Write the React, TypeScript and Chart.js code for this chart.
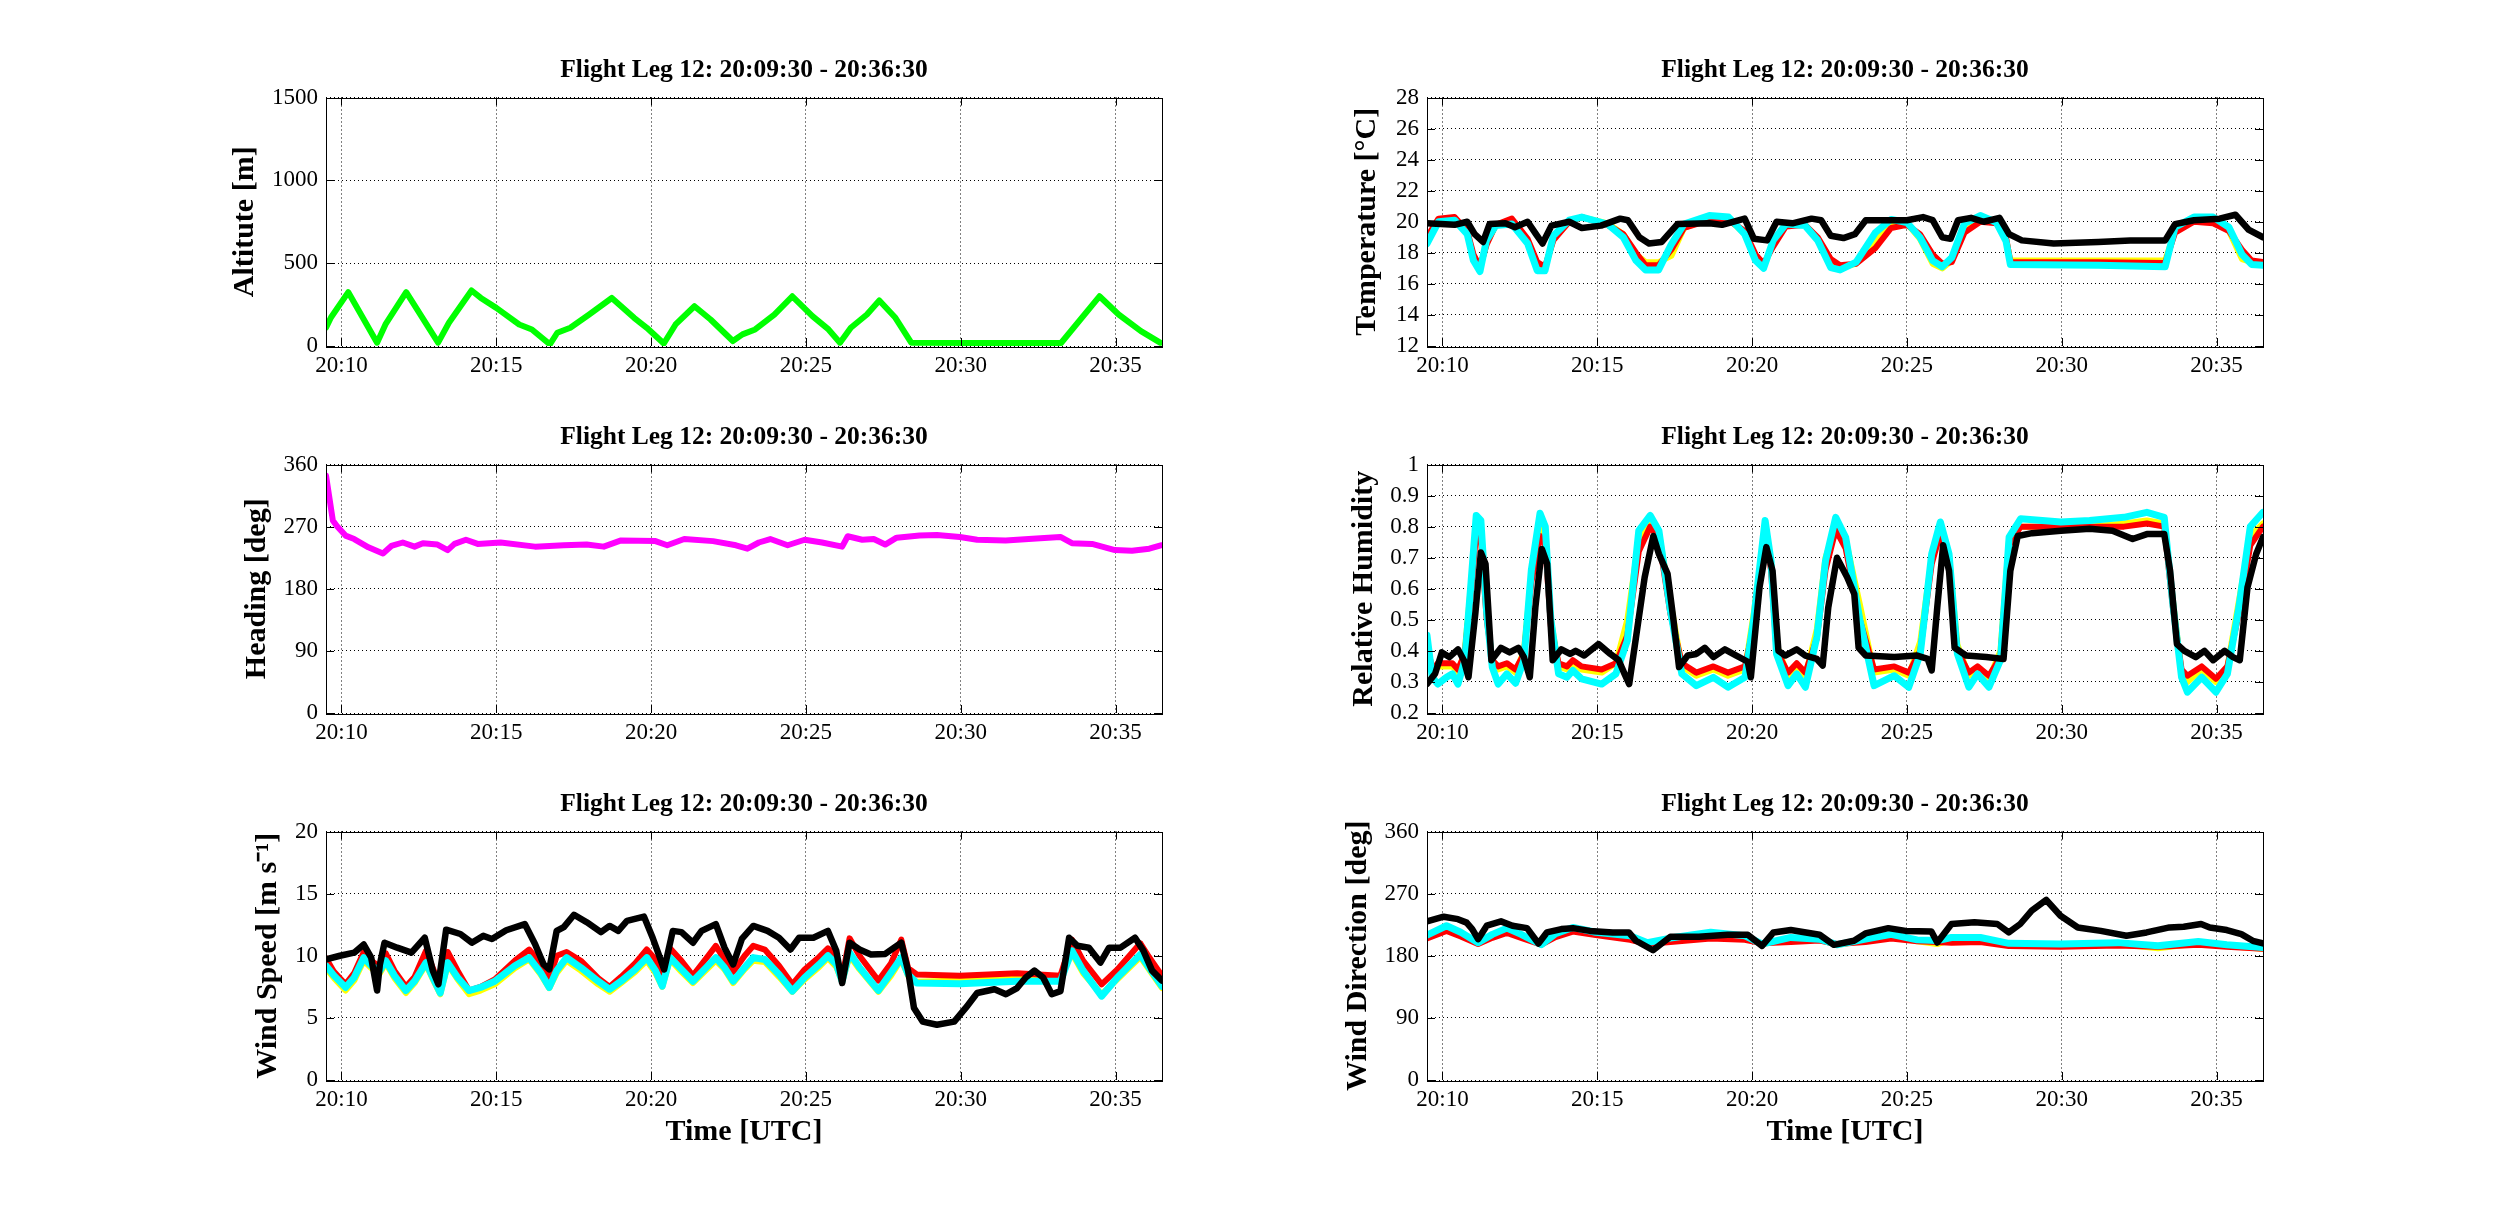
import React, { useEffect, useRef } from "react";
import { Chart, registerables } from "chart.js";

Chart.register(...registerables);

const FONT = "'Liberation Serif', 'Times New Roman', Times, serif";
const chartTitle = "Flight Leg 12: 20:09:30 - 20:36:30";

// x axis (minutes after 20:00)
const xMin = 9.5;
const xMax = 36.5;
const xTicks = [10, 15, 20, 25, 30, 35];
const xTickLabels = ["20:10", "20:15", "20:20", "20:25", "20:30", "20:35"];

// ---- Altitude ----
const altTicks = [0, 500, 1000, 1500];
const altTickLabels = ["0", "500", "1000", "1500"];
const altTime = [9.5, 9.66, 10.22, 11.15, 11.42, 12.09, 13.12, 13.47, 14.2, 14.5, 15.0, 15.74, 16.15, 16.73, 16.97, 17.39, 18.0, 18.73, 19.45, 19.86, 20.41, 20.79, 21.4, 21.92, 22.64, 22.95, 23.36, 23.98, 24.56, 25.21, 25.73, 26.1, 26.45, 26.97, 27.37, 27.89, 28.4, 30.5, 33.24, 34.48, 35.1, 35.82, 36.44];
const altValue = [111, 172, 325, 20, 130, 325, 20, 140, 335, 290, 230, 130, 100, 10, 80, 110, 190, 290, 170, 110, 15, 130, 240, 160, 30, 70, 100, 190, 300, 180, 100, 20, 110, 190, 275, 170, 20, 18, 18, 300, 190, 90, 20];

// ---- Heading ----
const hdgTicks = [0, 90, 180, 270, 360];
const hdgTickLabels = ["0", "90", "180", "270", "360"];
const hdgTime = [9.5, 9.72, 9.85, 10.13, 10.41, 10.87, 11.34, 11.61, 11.98, 12.36, 12.63, 13.1, 13.43, 13.65, 14.02, 14.4, 15.14, 16.25, 17.18, 17.92, 18.47, 19.03, 20.14, 20.52, 21.07, 22.0, 22.74, 23.11, 23.48, 23.85, 24.41, 24.96, 25.52, 26.17, 26.35, 26.82, 27.19, 27.56, 27.93, 28.67, 29.23, 29.97, 30.53, 31.45, 32.57, 33.22, 33.59, 34.24, 34.98, 35.53, 36.09, 36.46];
const hdgValue = [344, 279, 271, 257, 252, 240, 231, 242, 247, 241, 246, 244, 236, 245, 251, 245, 247, 241, 243, 244, 241, 250, 249, 243, 252, 249, 243, 238, 247, 252, 243, 251, 247, 241, 256, 251, 252, 244, 254, 257, 258, 255, 251, 250, 253, 255, 246, 245, 236, 235, 238, 243];

// ---- Temperature ----
const tmpTicks = [12, 14, 16, 18, 20, 22, 24, 26, 28];
const tmpTickLabels = ["12", "14", "16", "18", "20", "22", "24", "26", "28"];
const tmpTime = [9.5, 9.87, 10.39, 10.8, 11.0, 11.21, 11.42, 11.72, 12.24, 12.75, 13.06, 13.31, 13.58, 14.09, 14.5, 15.33, 15.84, 16.25, 16.56, 16.98, 17.39, 17.8, 18.62, 19.24, 19.76, 20.11, 20.37, 20.68, 21.09, 21.71, 22.12, 22.54, 22.84, 23.36, 23.98, 24.49, 25.0, 25.42, 25.83, 26.14, 26.45, 26.86, 27.37, 27.89, 28.2, 28.34, 31.18, 33.34, 33.66, 34.27, 34.89, 35.4, 35.82, 36.13, 36.5];
const tmpCyan = [18.6, 20.0, 20.1, 19.2, 17.5, 16.8, 18.8, 19.75, 19.85, 18.6, 16.85, 16.85, 19.1, 20.1, 20.3, 19.85, 19.0, 17.5, 16.9, 16.9, 18.55, 19.85, 20.4, 20.3, 19.2, 17.5, 17.0, 18.8, 19.85, 19.75, 18.8, 17.05, 16.9, 17.4, 19.3, 20.15, 19.95, 19.0, 17.5, 17.1, 17.7, 19.9, 20.4, 19.95, 18.75, 17.25, 17.2, 17.1, 19.65, 20.3, 20.3, 19.65, 17.9, 17.25, 17.2];
const tmpRed = [19.0, 20.2, 20.3, 19.4, 17.9, 17.1, 18.5, 19.8, 20.2, 18.9, 17.4, 17.1, 18.8, 20.0, 20.3, 19.8, 19.2, 18.0, 17.2, 17.2, 18.2, 19.6, 20.1, 20.1, 19.4, 17.9, 17.3, 18.4, 19.7, 19.8, 19.0, 17.6, 17.2, 17.3, 18.3, 19.6, 19.8, 19.2, 17.9, 17.3, 17.4, 19.3, 20.0, 19.9, 19.0, 17.4, 17.4, 17.35, 19.3, 20.0, 19.9, 19.4, 18.2, 17.5, 17.4];
const tmpYellow = [18.8, 20.1, 20.2, 19.3, 17.7, 17.0, 18.6, 19.75, 20.0, 18.7, 17.1, 17.0, 18.9, 20.0, 20.3, 19.9, 19.2, 17.9, 17.4, 17.4, 17.8, 19.6, 20.2, 20.2, 19.2, 17.6, 17.1, 18.6, 19.8, 19.8, 18.9, 17.3, 17.0, 17.3, 18.8, 19.9, 19.9, 18.9, 17.3, 17.0, 17.5, 19.6, 20.2, 20.0, 18.9, 17.5, 17.5, 17.5, 19.4, 20.1, 20.1, 19.4, 17.6, 17.4, 17.4];
const tmpBlackTime = [9.5, 10.39, 10.8, 11.04, 11.31, 11.52, 12.03, 12.34, 12.75, 13.02, 13.23, 13.52, 14.09, 14.5, 15.12, 15.74, 15.99, 16.36, 16.67, 17.08, 17.59, 18.62, 19.03, 19.76, 20.06, 20.48, 20.79, 21.3, 21.92, 22.23, 22.54, 22.95, 23.32, 23.67, 25.0, 25.52, 25.83, 26.14, 26.41, 26.65, 27.07, 27.48, 27.99, 28.3, 28.71, 29.74, 31.18, 32.21, 33.34, 33.66, 34.27, 35.1, 35.61, 36.03, 36.5];
const tmpBlack = [19.9, 19.8, 20.0, 19.2, 18.7, 19.85, 19.9, 19.65, 20.0, 19.2, 18.6, 19.75, 20.0, 19.6, 19.75, 20.2, 20.1, 19.0, 18.6, 18.7, 19.85, 19.9, 19.8, 20.2, 18.9, 18.8, 20.0, 19.9, 20.2, 20.1, 19.1, 18.95, 19.2, 20.1, 20.1, 20.3, 20.1, 19.0, 18.9, 20.1, 20.25, 20.0, 20.25, 19.2, 18.8, 18.6, 18.7, 18.8, 18.8, 19.85, 20.1, 20.2, 20.45, 19.5, 19.0];

// ---- Relative humidity ----
const rhTicks = [0.2, 0.3, 0.4, 0.5, 0.6, 0.7, 0.8, 0.9, 1];
const rhTickLabels = ["0.2", "0.3", "0.4", "0.5", "0.6", "0.7", "0.8", "0.9", "1"];
const rhTime = [9.5, 9.67, 9.85, 10.13, 10.32, 10.5, 10.72, 10.91, 11.09, 11.24, 11.43, 11.61, 11.8, 12.08, 12.36, 12.63, 12.87, 13.15, 13.32, 13.5, 13.75, 14.02, 14.21, 14.49, 15.14, 15.6, 15.97, 16.34, 16.71, 16.99, 17.36, 17.73, 18.2, 18.75, 19.22, 19.77, 20.05, 20.42, 20.61, 20.79, 21.16, 21.44, 21.72, 22.09, 22.37, 22.7, 23.02, 23.48, 23.94, 24.59, 25.06, 25.43, 25.8, 26.08, 26.36, 26.63, 27.0, 27.28, 27.65, 28.02, 28.3, 28.67, 29.97, 30.9, 32.01, 32.75, 33.31, 33.59, 33.87, 34.06, 34.52, 34.98, 35.35, 35.72, 36.09, 36.5];
const rhCyan = [0.45, 0.315, 0.293, 0.315, 0.326, 0.293, 0.37, 0.605, 0.836, 0.82, 0.52, 0.347, 0.293, 0.326, 0.296, 0.37, 0.66, 0.843, 0.8, 0.5, 0.326, 0.315, 0.337, 0.31, 0.293, 0.326, 0.433, 0.787, 0.836, 0.787, 0.53, 0.326, 0.288, 0.315, 0.283, 0.315, 0.5, 0.82, 0.69, 0.39, 0.288, 0.326, 0.283, 0.444, 0.69, 0.83, 0.766, 0.5, 0.288, 0.32, 0.283, 0.39, 0.712, 0.815, 0.712, 0.39, 0.283, 0.326, 0.283, 0.37, 0.766, 0.825, 0.815, 0.82, 0.83, 0.846, 0.83, 0.55, 0.315, 0.267, 0.315, 0.267, 0.326, 0.54, 0.8, 0.846];
const rhRed = [0.42, 0.34, 0.36, 0.36, 0.36, 0.34, 0.39, 0.58, 0.78, 0.76, 0.5, 0.37, 0.35, 0.36, 0.34, 0.39, 0.62, 0.77, 0.74, 0.48, 0.36, 0.35, 0.37, 0.35, 0.34, 0.36, 0.45, 0.72, 0.8, 0.76, 0.52, 0.36, 0.33, 0.35, 0.33, 0.35, 0.48, 0.78, 0.66, 0.4, 0.33, 0.36, 0.33, 0.44, 0.66, 0.79, 0.73, 0.5, 0.34, 0.35, 0.33, 0.4, 0.68, 0.78, 0.68, 0.4, 0.33, 0.35, 0.32, 0.38, 0.74, 0.8, 0.8, 0.8, 0.8, 0.81, 0.8, 0.54, 0.34, 0.32, 0.35, 0.31, 0.35, 0.52, 0.74, 0.8];
const rhYellow = [0.43, 0.33, 0.35, 0.35, 0.35, 0.33, 0.4, 0.6, 0.8, 0.78, 0.52, 0.36, 0.34, 0.35, 0.33, 0.4, 0.64, 0.8, 0.76, 0.5, 0.35, 0.34, 0.36, 0.34, 0.33, 0.36, 0.5, 0.76, 0.81, 0.78, 0.56, 0.35, 0.32, 0.34, 0.32, 0.34, 0.52, 0.79, 0.68, 0.42, 0.32, 0.35, 0.32, 0.47, 0.7, 0.8, 0.76, 0.55, 0.33, 0.34, 0.32, 0.43, 0.7, 0.79, 0.7, 0.42, 0.32, 0.34, 0.31, 0.4, 0.76, 0.8, 0.8, 0.8, 0.81, 0.82, 0.81, 0.56, 0.33, 0.3, 0.34, 0.3, 0.35, 0.56, 0.77, 0.81];
const rhBlackTime = [9.5, 9.76, 9.98, 10.22, 10.5, 10.69, 10.84, 11.06, 11.24, 11.39, 11.58, 11.89, 12.17, 12.45, 12.63, 12.82, 13.0, 13.21, 13.38, 13.56, 13.84, 14.12, 14.3, 14.58, 15.04, 15.42, 15.69, 15.88, 16.03, 16.25, 16.53, 16.81, 16.99, 17.27, 17.46, 17.64, 17.92, 18.2, 18.47, 18.75, 19.12, 19.49, 19.86, 19.96, 20.24, 20.46, 20.66, 20.85, 21.07, 21.44, 21.72, 22.09, 22.28, 22.46, 22.74, 23.07, 23.3, 23.44, 23.67, 24.59, 25.33, 25.67, 25.8, 25.98, 26.17, 26.36, 26.54, 26.91, 27.56, 28.12, 28.34, 28.58, 29.04, 29.97, 30.9, 31.64, 32.29, 32.75, 33.31, 33.5, 33.72, 33.96, 34.33, 34.61, 34.89, 35.26, 35.53, 35.75, 36.0, 36.28, 36.5];
const rhBlack = [0.293, 0.326, 0.395, 0.38, 0.405, 0.37, 0.315, 0.52, 0.717, 0.68, 0.37, 0.41, 0.395, 0.41, 0.38, 0.315, 0.54, 0.728, 0.68, 0.37, 0.405, 0.39, 0.4, 0.385, 0.422, 0.39, 0.37, 0.326, 0.293, 0.444, 0.637, 0.77, 0.712, 0.648, 0.5, 0.348, 0.385, 0.39, 0.41, 0.38, 0.405, 0.385, 0.365, 0.315, 0.605, 0.734, 0.658, 0.4, 0.385, 0.405, 0.385, 0.374, 0.353, 0.54, 0.7, 0.637, 0.583, 0.41, 0.385, 0.38, 0.385, 0.374, 0.337, 0.54, 0.74, 0.658, 0.41, 0.385, 0.38, 0.374, 0.658, 0.77, 0.779, 0.787, 0.793, 0.787, 0.76, 0.776, 0.776, 0.658, 0.422, 0.4, 0.38, 0.4, 0.37, 0.4, 0.38, 0.37, 0.605, 0.712, 0.766];

// ---- Wind speed ----
const wsTicks = [0, 5, 10, 15, 20];
const wsTickLabels = ["0", "5", "10", "15", "20"];
const wsTime = [9.5, 9.76, 10.13, 10.41, 10.72, 10.96, 11.24, 11.43, 11.71, 12.08, 12.36, 12.73, 12.95, 13.19, 13.43, 13.75, 14.12, 14.49, 14.95, 15.6, 16.06, 16.43, 16.71, 16.95, 17.27, 17.73, 18.29, 18.66, 19.03, 19.49, 19.86, 20.14, 20.36, 20.61, 20.98, 21.35, 21.72, 22.09, 22.37, 22.65, 23.02, 23.3, 23.67, 24.13, 24.56, 24.96, 25.43, 25.71, 25.98, 26.17, 26.41, 26.73, 27.34, 27.75, 28.08, 28.3, 28.58, 29.97, 31.82, 33.22, 33.59, 33.95, 34.55, 35.06, 35.8, 36.08, 36.5];
const wsCyan = [9.2, 8.4, 7.45, 8.25, 9.85, 9.2, 8.8, 9.6, 8.4, 7.2, 7.95, 9.45, 8.25, 7.0, 9.45, 8.25, 7.2, 7.45, 7.95, 9.2, 9.85, 8.65, 7.45, 8.8, 9.85, 9.05, 7.95, 7.3, 7.95, 8.9, 9.85, 8.8, 7.55, 9.85, 8.9, 7.95, 8.9, 9.85, 9.05, 7.95, 9.05, 9.85, 9.7, 8.5, 7.15, 8.25, 9.3, 10.0, 9.3, 7.95, 10.25, 9.05, 7.2, 8.65, 9.85, 8.5, 7.8, 7.75, 7.95, 7.95, 10.4, 8.8, 6.75, 8.25, 10.1, 9.05, 7.55];
const wsRed = [9.8, 8.7, 7.7, 8.6, 10.3, 9.6, 9.1, 10.2, 8.8, 7.5, 8.3, 10.4, 9.0, 7.5, 10.3, 8.8, 7.2, 7.5, 8.1, 9.6, 10.5, 9.4, 8.1, 10.0, 10.3, 9.6, 8.2, 7.5, 8.3, 9.4, 10.5, 9.7, 8.1, 10.6, 9.6, 8.4, 9.6, 10.8, 9.7, 8.7, 10.0, 10.8, 10.5, 9.2, 7.7, 8.9, 9.9, 10.6, 10.0, 8.2, 11.4, 10.0, 8.0, 9.4, 11.3, 9.0, 8.5, 8.4, 8.6, 8.4, 11.3, 9.6, 7.7, 8.9, 11.0, 9.9, 8.4];
const wsYellow = [9.0, 8.2, 7.2, 8.0, 9.6, 9.0, 8.6, 9.4, 8.2, 7.0, 7.8, 9.3, 8.1, 6.9, 9.3, 8.1, 6.9, 7.2, 7.7, 9.0, 9.7, 8.5, 7.4, 8.6, 9.6, 8.8, 7.7, 7.1, 7.8, 8.7, 9.6, 8.6, 7.5, 9.7, 8.7, 7.8, 8.7, 9.6, 8.9, 7.8, 8.9, 9.6, 9.5, 8.3, 7.1, 8.1, 9.1, 9.8, 9.1, 7.9, 10.0, 8.9, 7.1, 8.4, 9.7, 8.4, 7.9, 8.0, 8.2, 8.3, 10.2, 8.6, 6.9, 8.1, 9.9, 8.9, 7.4];
const wsBlackTime = [9.5, 9.95, 10.41, 10.72, 10.96, 11.15, 11.24, 11.39, 11.8, 12.26, 12.69, 12.95, 13.13, 13.38, 13.84, 14.21, 14.58, 14.86, 15.32, 15.92, 16.25, 16.53, 16.71, 16.95, 17.18, 17.51, 17.92, 18.38, 18.66, 18.94, 19.22, 19.77, 20.05, 20.42, 20.7, 20.98, 21.35, 21.63, 22.09, 22.37, 22.65, 22.93, 23.3, 23.76, 24.13, 24.5, 24.78, 25.24, 25.71, 25.98, 26.17, 26.41, 26.73, 27.1, 27.56, 28.08, 28.3, 28.49, 28.77, 29.23, 29.79, 30.16, 30.53, 31.09, 31.46, 31.82, 32.1, 32.38, 32.66, 32.94, 33.22, 33.5, 33.77, 34.14, 34.51, 34.79, 35.16, 35.63, 35.9, 36.18, 36.5];
const wsBlack = [9.7, 10.0, 10.25, 10.9, 9.85, 7.2, 9.3, 11.05, 10.65, 10.25, 11.45, 8.8, 7.7, 12.1, 11.75, 11.05, 11.6, 11.35, 12.05, 12.55, 10.95, 9.3, 8.9, 12.0, 12.3, 13.3, 12.7, 11.9, 12.4, 12.0, 12.8, 13.15, 11.45, 8.9, 12.0, 11.9, 11.05, 12.0, 12.55, 10.65, 9.3, 11.35, 12.4, 12.0, 11.45, 10.5, 11.45, 11.45, 12.0, 10.4, 7.8, 11.05, 10.5, 10.1, 10.15, 11.05, 8.8, 5.8, 4.7, 4.45, 4.7, 5.8, 7.0, 7.3, 6.9, 7.4, 8.25, 8.8, 8.25, 6.9, 7.15, 11.45, 10.8, 10.65, 9.45, 10.65, 10.65, 11.45, 10.4, 8.8, 8.0];

// ---- Wind direction ----
const wdTicks = [0, 90, 180, 270, 360];
const wdTickLabels = ["0", "90", "180", "270", "360"];
const wdTime = [9.5, 10.13, 10.59, 11.15, 11.61, 12.08, 12.54, 13.19, 13.65, 14.21, 14.95, 16.06, 16.62, 17.36, 18.66, 19.77, 20.32, 21.25, 22.18, 22.74, 23.66, 24.49, 25.33, 25.98, 26.44, 27.37, 28.29, 29.96, 31.81, 33.11, 34.41, 35.33, 36.5];
const wdCyan = [210, 223.5, 214, 199, 211, 220, 211, 196, 212, 221, 214, 209, 199, 205.6, 214, 209, 197, 206.5, 204, 196, 204, 211, 203, 202, 206.5, 206.5, 198, 197, 199, 194.4, 200.7, 195.8, 192];
const wdRed = [205, 216, 208, 197, 206, 213, 206, 196, 207, 215, 210, 203, 197, 200, 205, 203, 198, 200, 202, 197, 200, 205, 201, 200, 199, 200, 194, 193, 195, 193, 196, 193, 190];
const wdYellow = [208, 220, 212, 198, 209, 218, 210, 196, 210, 219, 212, 206, 198, 203, 211, 207, 197, 204, 203, 196, 202, 209, 201, 197, 203, 203, 195, 195, 197, 191, 198, 194, 190];
const wdBlackTime = [9.5, 10.04, 10.5, 10.78, 10.96, 11.15, 11.43, 11.89, 12.26, 12.73, 13.1, 13.37, 13.84, 14.21, 14.76, 15.5, 16.02, 16.25, 16.8, 17.36, 18.28, 19.21, 19.86, 20.32, 20.69, 21.25, 22.18, 22.64, 23.29, 23.66, 24.4, 24.96, 25.79, 25.98, 26.44, 27.18, 27.92, 28.29, 28.66, 29.03, 29.5, 29.96, 30.52, 31.26, 32.09, 32.74, 33.48, 33.94, 34.5, 34.78, 35.33, 35.8, 36.17, 36.5];
const wdBlack = [229.8, 236.6, 233, 228, 218.6, 204, 223.5, 229.8, 223.5, 220, 197.8, 213.8, 218.6, 220, 216, 213.8, 213.8, 201.7, 188, 207.5, 207.5, 210.4, 210.4, 194.4, 213.8, 217.2, 210.4, 195.8, 201.7, 212.3, 220, 216, 215.2, 199.2, 226, 228.4, 226, 213.8, 226, 245.3, 260.8, 238, 221, 216, 209, 213.8, 221, 222, 226, 221, 217.2, 211.3, 201.7, 197.8];

type Series = { t: number[]; v: number[]; color: string; width: number };

type PanelProps = {
  plotLeft: number;
  plotTop: number;
  plotW: number;
  plotH: number;
  yW: number;
  xH: number;
  yTitle: string;
  xTitle?: string;
  yMin: number;
  yMax: number;
  yTicks: number[];
  yTickLabels: string[];
  series: Series[];
};

const PAD_TOP = 5;
const PAD_RIGHT = 10;
const TITLE_SIZE = 25.5;
const TITLE_PAD_BOTTOM = 14;
const TITLE_BLOCK = TITLE_SIZE + TITLE_PAD_BOTTOM;

const boxPlugin = {
  id: "matlabBox",
  afterDatasetsDraw(chart: any) {
    const { ctx, chartArea: a, scales } = chart;
    const L = 8;
    ctx.save();
    ctx.setLineDash([]);
    ctx.strokeStyle = "#000";
    ctx.lineWidth = 1;
    ctx.beginPath();
    for (const t of scales.x.ticks) {
      const px = Math.round(scales.x.getPixelForValue(t.value)) + 0.5;
      ctx.moveTo(px, a.bottom);
      ctx.lineTo(px, a.bottom - L);
      ctx.moveTo(px, a.top);
      ctx.lineTo(px, a.top + L);
    }
    for (const t of scales.y.ticks) {
      const py = Math.round(scales.y.getPixelForValue(t.value)) + 0.5;
      ctx.moveTo(a.left, py);
      ctx.lineTo(a.left + L, py);
      ctx.moveTo(a.right, py);
      ctx.lineTo(a.right - L, py);
    }
    ctx.stroke();
    ctx.strokeRect(
      Math.round(a.left) + 0.5,
      Math.round(a.top) + 0.5,
      Math.round(a.right - a.left),
      Math.round(a.bottom - a.top)
    );
    ctx.restore();
  },
};

function Panel(p: PanelProps) {
  const ref = useRef<HTMLCanvasElement | null>(null);
  const width = Math.round(p.yW + p.plotW + PAD_RIGHT);
  const height = Math.round(PAD_TOP + TITLE_BLOCK + p.plotH + p.xH);
  const left = p.plotLeft - p.yW;
  const top = Math.round(p.plotTop - PAD_TOP - TITLE_BLOCK);

  useEffect(() => {
    if (!ref.current) return;
    const tickFont = { family: FONT, size: 23, weight: "normal" as const, lineHeight: 1.2 };
    const labelFont = { family: FONT, size: 30, weight: "bold" as const, lineHeight: 1 };
    const chart = new Chart(ref.current, {
      type: "line",
      data: {
        datasets: p.series.map((s) => ({
          data: s.t.map((x, i) => ({ x, y: s.v[i] })),
          borderColor: s.color,
          backgroundColor: s.color,
          borderWidth: s.width,
          pointRadius: 0,
          pointHoverRadius: 0,
          tension: 0,
          fill: false,
          clip: 0,
          borderJoinStyle: "round" as const,
          borderCapStyle: "round" as const,
        })),
      },
      options: {
        animation: false,
        responsive: false,
        maintainAspectRatio: false,
        devicePixelRatio: 1,
        events: [],
        layout: { padding: { top: PAD_TOP, right: PAD_RIGHT, left: 0, bottom: 0 } },
        plugins: {
          legend: { display: false },
          tooltip: { enabled: false },
          title: {
            display: true,
            text: chartTitle,
            fullSize: false,
            color: "#000",
            font: { family: FONT, size: TITLE_SIZE, weight: "bold", lineHeight: 1 },
            padding: { top: 0, bottom: TITLE_PAD_BOTTOM },
          },
        },
        scales: {
          x: {
            type: "linear",
            min: xMin,
            max: xMax,
            afterBuildTicks: (s: any) => {
              s.ticks = xTicks.map((v) => ({ value: v }));
            },
            afterFit: (s: any) => {
              s.height = p.xH;
            },
            ticks: {
              autoSkip: false,
              maxRotation: 0,
              minRotation: 0,
              padding: 6,
              color: "#000",
              font: tickFont,
              callback: (v: any) => xTickLabels[xTicks.indexOf(Number(v))] ?? "",
            },
            grid: { color: "#000", lineWidth: 1, drawTicks: false },
            border: { display: false, dash: [1, 3] },
            title: p.xTitle
              ? { display: true, text: p.xTitle, color: "#000", font: labelFont, padding: 0 }
              : { display: false },
          },
          y: {
            type: "linear",
            min: p.yMin,
            max: p.yMax,
            afterBuildTicks: (s: any) => {
              s.ticks = p.yTicks.map((v) => ({ value: v }));
            },
            afterFit: (s: any) => {
              s.width = p.yW;
            },
            ticks: {
              autoSkip: false,
              padding: 8,
              color: "#000",
              font: tickFont,
              callback: (v: any) => {
                const i = p.yTicks.findIndex((t) => Math.abs(t - Number(v)) < 1e-9);
                return i >= 0 ? p.yTickLabels[i] : "";
              },
            },
            grid: { color: "#000", lineWidth: 1, drawTicks: false },
            border: { display: false, dash: [1, 3] },
            title: { display: true, text: p.yTitle, color: "#000", font: labelFont, padding: 0 },
          },
        },
      } as any,
      plugins: [boxPlugin],
    });
    return () => chart.destroy();
  }, []);

  return (
    <canvas
      ref={ref}
      width={width}
      height={height}
      style={{ position: "absolute", left, top, width, height }}
    />
  );
}

const LEFT_X = 326;
const RIGHT_X = 1427;
const PLOT_W = 836;
const ROW_Y = [97, 464, 831];
const PLOT_H = 248;

const BLACK = "#000000";
const CYAN = "#00ffff";
const RED = "#ff0000";
const YELLOW = "#ffff00";

export default function App() {
  return (
    <div style={{ position: "absolute", left: 0, top: 0, width: 2500, height: 1224, background: "#fff", overflow: "hidden" }}>
      <Panel
        plotLeft={LEFT_X} plotTop={ROW_Y[0]} plotW={PLOT_W} plotH={PLOT_H} yW={96} xH={45}
        yTitle="Altitute [m]" yMin={0} yMax={1500} yTicks={altTicks} yTickLabels={altTickLabels}
        series={[{ t: altTime, v: altValue, color: "#00ff00", width: 6 }]}
      />
      <Panel
        plotLeft={RIGHT_X} plotTop={ROW_Y[0]} plotW={PLOT_W} plotH={PLOT_H} yW={75} xH={45}
        yTitle="Temperature [°C]" yMin={12} yMax={28} yTicks={tmpTicks} yTickLabels={tmpTickLabels}
        series={[
          { t: tmpBlackTime, v: tmpBlack, color: BLACK, width: 6.5 },
          { t: tmpTime, v: tmpCyan, color: CYAN, width: 7 },
          { t: tmpTime, v: tmpRed, color: RED, width: 6 },
          { t: tmpTime, v: tmpYellow, color: YELLOW, width: 6 },
        ]}
      />
      <Panel
        plotLeft={LEFT_X} plotTop={ROW_Y[1]} plotW={PLOT_W} plotH={PLOT_H} yW={84} xH={45}
        yTitle="Heading [deg]" yMin={0} yMax={360} yTicks={hdgTicks} yTickLabels={hdgTickLabels}
        series={[{ t: hdgTime, v: hdgValue, color: "#ff00ff", width: 6 }]}
      />
      <Panel
        plotLeft={RIGHT_X} plotTop={ROW_Y[1]} plotW={PLOT_W} plotH={PLOT_H} yW={78} xH={45}
        yTitle="Relative Humidity" yMin={0.2} yMax={1} yTicks={rhTicks} yTickLabels={rhTickLabels}
        series={[
          { t: rhBlackTime, v: rhBlack, color: BLACK, width: 6.5 },
          { t: rhTime, v: rhCyan, color: CYAN, width: 7 },
          { t: rhTime, v: rhRed, color: RED, width: 6 },
          { t: rhTime, v: rhYellow, color: YELLOW, width: 6 },
        ]}
      />
      <Panel
        plotLeft={LEFT_X} plotTop={ROW_Y[2]} plotW={PLOT_W} plotH={PLOT_H} yW={73} xH={67}
        yTitle="Wind Speed [m s⁻¹]" xTitle="Time [UTC]" yMin={0} yMax={20} yTicks={wsTicks} yTickLabels={wsTickLabels}
        series={[
          { t: wsBlackTime, v: wsBlack, color: BLACK, width: 6.5 },
          { t: wsTime, v: wsCyan, color: CYAN, width: 7 },
          { t: wsTime, v: wsRed, color: RED, width: 6 },
          { t: wsTime, v: wsYellow, color: YELLOW, width: 6 },
        ]}
      />
      <Panel
        plotLeft={RIGHT_X} plotTop={ROW_Y[2]} plotW={PLOT_W} plotH={PLOT_H} yW={84} xH={67}
        yTitle="Wind Direction [deg]" xTitle="Time [UTC]" yMin={0} yMax={360} yTicks={wdTicks} yTickLabels={wdTickLabels}
        series={[
          { t: wdBlackTime, v: wdBlack, color: BLACK, width: 6.5 },
          { t: wdTime, v: wdCyan, color: CYAN, width: 7 },
          { t: wdTime, v: wdRed, color: RED, width: 6 },
          { t: wdTime, v: wdYellow, color: YELLOW, width: 6 },
        ]}
      />
    </div>
  );
}
